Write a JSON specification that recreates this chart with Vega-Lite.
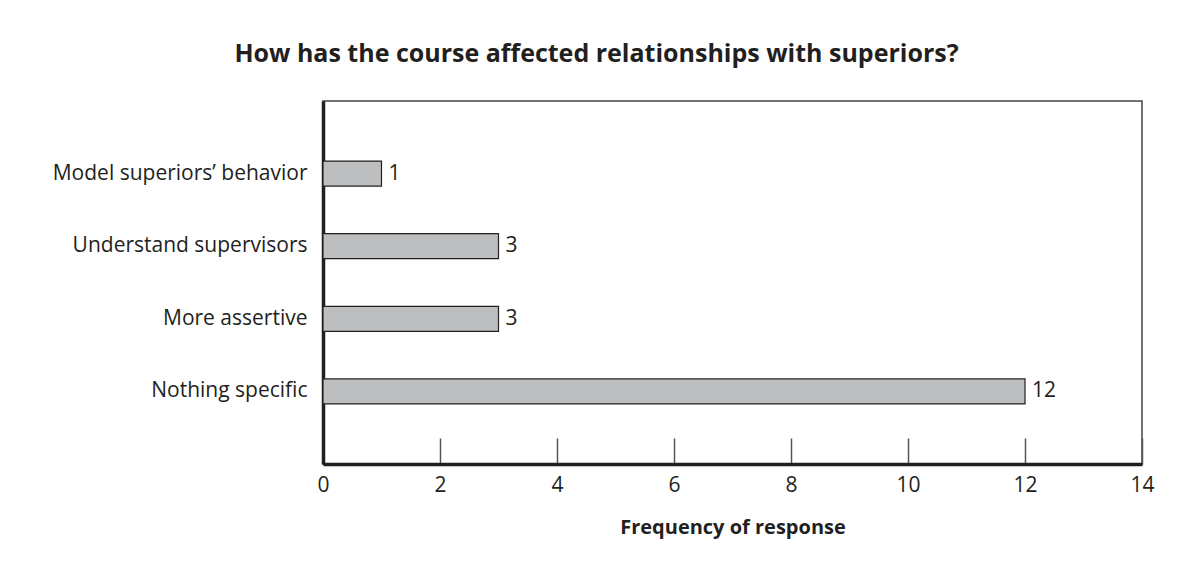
{
  "$schema": "https://vega.github.io/schema/vega-lite/v6.json",
  "autosize": {"type": "none"},
  "width": 819,
  "height": 363,
  "padding": {"left": 323, "top": 101, "right": 49, "bottom": 116},
  "background": "white",
  "config": {
    "font": "Open Sans",
    "view": {"stroke": "#444", "strokeWidth": 1.5}
  },
  "title": {
    "text": "How has the course affected relationships with superiors?",
    "font": "Open Sans",
    "fontSize": 25,
    "fontWeight": "bold",
    "color": "#231f20",
    "anchor": "middle",
    "dx": -136,
    "offset": 34
  },
  "data": {
    "values": [
      {"response": "Model superiors’ behavior", "count": 1},
      {"response": "Understand supervisors", "count": 3},
      {"response": "More assertive", "count": 3},
      {"response": "Nothing specific", "count": 12}
    ]
  },
  "encoding": {
    "y": {
      "field": "response",
      "type": "nominal",
      "sort": null,
      "scale": {"paddingInner": 0.656, "paddingOuter": 0.828},
      "axis": {
        "title": null,
        "ticks": false,
        "domainColor": "#231f20",
        "domainWidth": 3.5,
        "labelFont": "Open Sans",
        "labelFontSize": 21,
        "labelColor": "#231f20",
        "labelPadding": 16,
        "labelLimit": 0
      }
    },
    "x": {
      "field": "count",
      "type": "quantitative",
      "scale": {"domain": [0, 14], "nice": false},
      "axis": {
        "title": "Frequency of response",
        "titleFont": "Open Sans",
        "titleFontSize": 20,
        "titleFontWeight": "bold",
        "titleColor": "#231f20",
        "titlePadding": 22,
        "values": [0, 2, 4, 6, 8, 10, 12, 14],
        "grid": false,
        "domainColor": "#231f20",
        "domainWidth": 3.5,
        "tickColor": "#555",
        "tickWidth": 1.5,
        "tickSize": -26,
        "labelFont": "Open Sans",
        "labelFontSize": 21,
        "labelFlush": false,
        "labelColor": "#231f20",
        "labelPadding": 36
      }
    }
  },
  "layer": [
    {
      "mark": {"type": "bar", "fill": "#bdbec0", "stroke": "#231f20", "strokeWidth": 1.2}
    },
    {
      "mark": {"type": "text", "align": "left", "baseline": "middle", "dx": 7, "fontSize": 21, "font": "Open Sans", "color": "#231f20"},
      "encoding": {"text": {"field": "count", "type": "quantitative"}}
    }
  ]
}
